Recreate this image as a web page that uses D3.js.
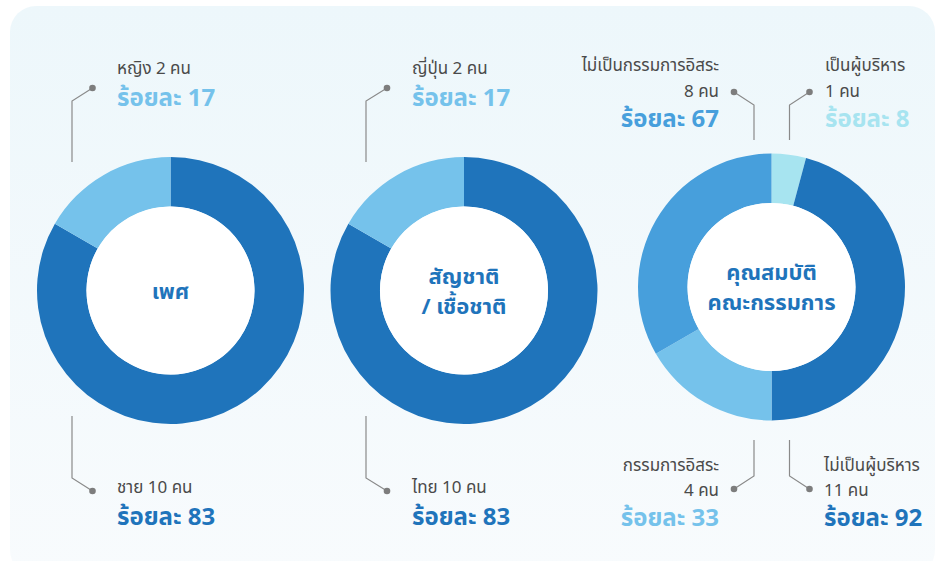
<!DOCTYPE html>
<html>
<head>
<meta charset="utf-8">
<script src="https://cdn.jsdelivr.net/npm/d3@7"></script>
<style>
  html, body { margin: 0; padding: 0; background: #fff; }
  svg { display: block; }
  text { font-family: "Noto Sans Thai", "Noto Sans", "DejaVu Sans", sans-serif; }
</style>
</head>
<body>
<div id="chart"></div>
<script>
// three donuts: gender, nationality, board qualification
const genderNames = ["ชาย", "หญิง"];
const genderCounts = [10, 2];
const nationNames = ["ไทย", "ญี่ปุ่น"];
const nationCounts = [10, 2];
// board ring holds two splits of the same 12 directors
const boardNames = ["เป็นผู้บริหาร", "ไม่เป็นผู้บริหาร", "กรรมการอิสระ", "ไม่เป็นกรรมการอิสระ"];
const boardCounts = [1, 11, 4, 8];
const boardGroupTotal = 12;

const dark = "#1f74bb", light = "#75c2eb", mid = "#479fdc", cyan = "#a7e4f0";
const width = 939, height = 561;

const svg = d3.select("#chart").append("svg").attr("width", width).attr("height", height);

const defs = svg.append("defs");
const grad = defs.append("linearGradient").attr("id", "bg").attr("x1", 0).attr("y1", 0).attr("x2", 0).attr("y2", 1);
grad.append("stop").attr("offset", 0).attr("stop-color", "#edf7fb");
grad.append("stop").attr("offset", 1).attr("stop-color", "#f8fbfd");
svg.append("rect").attr("x", 10).attr("y", 6).attr("width", 925).attr("height", 570)
  .attr("rx", 26).attr("fill", "url(#bg)");

const outerR = 133.5, innerR = 84;
const arc = d3.arc().innerRadius(innerR).outerRadius(outerR);
const pie = d3.pie().sort(null).value(d => d);

function donut(cx, cy, counts, colors, title) {
  const g = svg.append("g").attr("transform", `translate(${cx},${cy})`);
  g.selectAll("path").data(pie(counts)).join("path")
    .attr("d", arc).attr("fill", (d, i) => colors[i]);
  g.append("circle").attr("r", innerR).attr("fill", "#fff");
  const lh = 30;
  g.append("text").attr("text-anchor", "middle")
    .attr("font-size", 22).attr("font-weight", 700).attr("fill", dark)
    .selectAll("tspan").data(title).join("tspan")
    .attr("x", 0).attr("y", (d, i) => 8 + (i - (title.length - 1) / 2) * lh)
    .text(d => d);
  return g;
}

const pct = (v, total) => Math.round(v / total * 100);

// callout: leader line + dot + label lines
function callout(pts, tx, anchor, lines, valueText, valueColor, ys) {
  svg.append("path").attr("d", d3.line()(pts))
    .attr("fill", "none").attr("stroke", "#8a8a8a").attr("stroke-width", 1.2);
  const end = pts[pts.length - 1];
  svg.append("circle").attr("cx", end[0]).attr("cy", end[1]).attr("r", 3.3).attr("fill", "#7d7d7d");
  lines.forEach((t, i) => {
    svg.append("text").attr("x", tx).attr("y", ys[i]).attr("text-anchor", anchor)
      .attr("font-size", 17).attr("fill", "#4a4a4a").text(t);
  });
  svg.append("text").attr("x", tx).attr("y", ys[lines.length]).attr("text-anchor", anchor)
    .attr("font-size", 24).attr("font-weight", 700).attr("fill", valueColor).text(valueText);
}

const gTotal = d3.sum(genderCounts), nTotal = d3.sum(nationCounts);

donut(170.5, 290.5, genderCounts, [dark, light], ["เพศ"]);
donut(464, 290.5, nationCounts, [dark, light], ["สัญชาติ", "/ เชื้อชาติ"]);
donut(771.5, 287, boardCounts, [cyan, dark, light, mid], ["คุณสมบัติ", "คณะกรรมการ"]);

// gender
callout([[72, 162], [72, 101], [92.5, 88]], 117, "start",
  [`${genderNames[1]} ${genderCounts[1]} คน`], `ร้อยละ ${pct(genderCounts[1], gTotal)}`, light, [74, 106]);
callout([[72, 416], [72, 478], [92.5, 491]], 117, "start",
  [`${genderNames[0]} ${genderCounts[0]} คน`], `ร้อยละ ${pct(genderCounts[0], gTotal)}`, dark, [493, 525]);

// nationality
callout([[366, 162], [366, 101], [387, 88]], 412, "start",
  [`${nationNames[1]} ${nationCounts[1]} คน`], `ร้อยละ ${pct(nationCounts[1], nTotal)}`, light, [74, 106]);
callout([[366, 416], [366, 478], [387, 491]], 412, "start",
  [`${nationNames[0]} ${nationCounts[0]} คน`], `ร้อยละ ${pct(nationCounts[0], nTotal)}`, dark, [493, 525]);

// board
callout([[754, 140], [754, 105], [734, 92]], 719, "end",
  [boardNames[3], `${boardCounts[3]} คน`], `ร้อยละ ${pct(boardCounts[3], boardGroupTotal)}`, mid, [71, 97, 127]);
callout([[789.5, 140], [789.5, 105], [809.5, 92]], 825, "start",
  [boardNames[0], `${boardCounts[0]} คน`], `ร้อยละ ${pct(boardCounts[0], boardGroupTotal)}`, cyan, [71, 97, 127]);
callout([[754, 440], [754, 476], [734, 489]], 719, "end",
  [boardNames[2], `${boardCounts[2]} คน`], `ร้อยละ ${pct(boardCounts[2], boardGroupTotal)}`, light, [471, 496, 526]);
callout([[789.5, 440], [789.5, 476], [809.5, 489]], 824, "start",
  [boardNames[1], `${boardCounts[1]} คน`], `ร้อยละ ${pct(boardCounts[1], boardGroupTotal)}`, dark, [471, 496, 526]);
</script>
</body>
</html>
